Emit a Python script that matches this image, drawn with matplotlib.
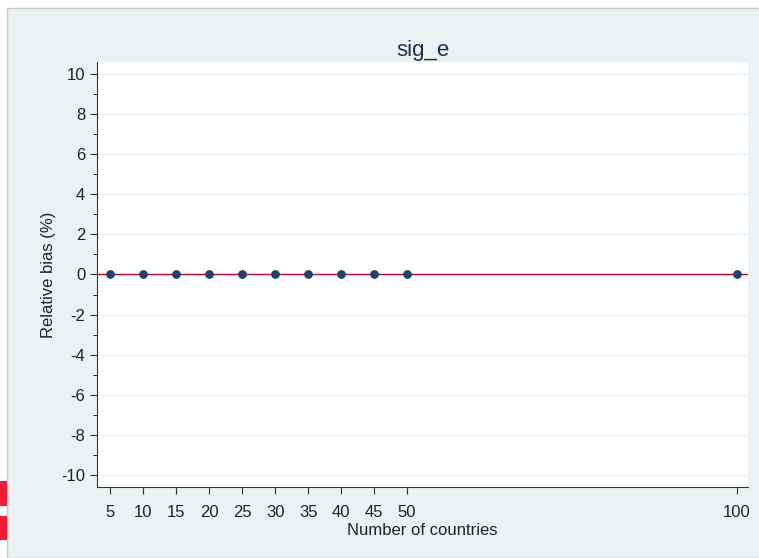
import matplotlib
matplotlib.use("Agg")
import numpy as np
from matplotlib import pyplot as plt
from matplotlib.patches import Rectangle

countries = [5, 10, 15, 20, 25, 30, 35, 40, 45, 50, 100]
bias = [0.02, 0.02, 0.0, 0.03, 0.02, 0.01, 0.0, 0.0, 0.0, 0.02, 0.0]
yticks = list(range(-10, 11, 2))
xticks = [5, 10, 15, 20, 25, 30, 35, 40, 45, 50, 100]

plt.rcParams['font.family'] = ['Liberation Sans', 'DejaVu Sans']
plt.rcParams['axes.unicode_minus'] = False

W, H = 759, 558
fig = plt.figure(figsize=(W / 100, H / 100), dpi=100)
fig.patch.set_facecolor('white')
fig.patches.append(Rectangle((7 / W, 0), 1, 1 - 8 / H, transform=fig.transFigure,
                             facecolor='#eaf2f3', edgecolor='#c8c8c8', lw=1, zorder=-10))
for y0, y1 in [(481, 506), (516, 540)]:
    fig.patches.append(Rectangle((0, 1 - y1 / H), 7 / W, (y1 - y0) / H,
                                 transform=fig.transFigure, facecolor='#ee1c35', lw=0, zorder=-10))

ax = fig.add_axes([97 / W, 1 - 487 / H, (748 - 97) / W, (487 - 62) / H])
ax.set_facecolor('white')
ax.axhline(0, color='#c10534', lw=1, zorder=2)
ax.scatter(countries, bias, s=28, color='#1a476f', zorder=3)
ax.set_xlim(3.0, 101.7)
ax.set_ylim(-10.6, 10.6)
ax.set_yticks(yticks)
ax.set_yticks(range(-9, 10, 2), minor=True)
ax.set_xticks(xticks)
ax.grid(axis='y', color='#eaf2f3', lw=1)
ax.set_axisbelow(True)
for s in ['top', 'right']:
    ax.spines[s].set_visible(False)
for s in ['left', 'bottom']:
    ax.spines[s].set_color('#333333')
ax.tick_params(labelsize=12, color='#333333', length=5, labelcolor='#222222')
ax.tick_params(axis='x', pad=8)
ax.tick_params(which='minor', length=3)
ax.set_xlabel('Number of countries', fontsize=12, labelpad=2, color='#222222')
ax.set_ylabel('Relative bias (%)', fontsize=12, color='#222222')
ax.set_title('sig_e', fontsize=16, color='#1e3250', pad=4)
fig.savefig('out.png', dpi=100, facecolor=fig.get_facecolor())
